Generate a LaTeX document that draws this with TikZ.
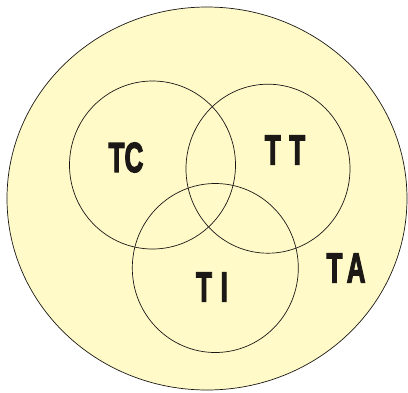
\documentclass[tikz,border=0pt]{standalone}
\usepackage{fontspec}
\setmainfont{Liberation Sans}
\newfontfamily\lblfont{Liberation Sans}[BoldFeatures={FakeBold=3.5}]
\usetikzlibrary{shapes.geometric}
\definecolor{paleyellow}{RGB}{255,250,200}
\definecolor{inkdark}{RGB}{28,24,22}
\begin{document}
\begin{tikzpicture}[x=1pt,y=-1pt,
  setline/.style={draw=inkdark,line width=0.7pt},
  lbl/.style={text=inkdark,inner sep=0pt,font=\lblfont\fontsize{42}{42}\selectfont\bfseries}]
\useasboundingbox (0,0) rectangle (408,392);
\draw[setline,fill=paleyellow] (207,198.5) ellipse [x radius=200pt,y radius=191.5pt];
\node[setline,ellipse,minimum width=166pt,minimum height=168pt,inner sep=0pt] (tc) at (152.5,165) {};
\node[setline,ellipse,minimum width=164pt,minimum height=169pt,inner sep=0pt] (tt) at (268,168.7) {};
\node[setline,ellipse,minimum width=166pt,minimum height=169pt,inner sep=0pt] (ti) at (215.3,268) {};
\node[lbl] (ltc) at (126,157.5) {\scalebox{0.62}[1]{TC}};
\node[lbl] (ltt) at (285,150) {\scalebox{0.62}[1]{T\,\,T}};
\node[lbl] (lti) at (212,287) {\scalebox{0.62}[1]{T\,\,I}};
\node[lbl] (lta) at (346,268) {\scalebox{0.62}[1]{T\,A}};
\end{tikzpicture}
\end{document}
